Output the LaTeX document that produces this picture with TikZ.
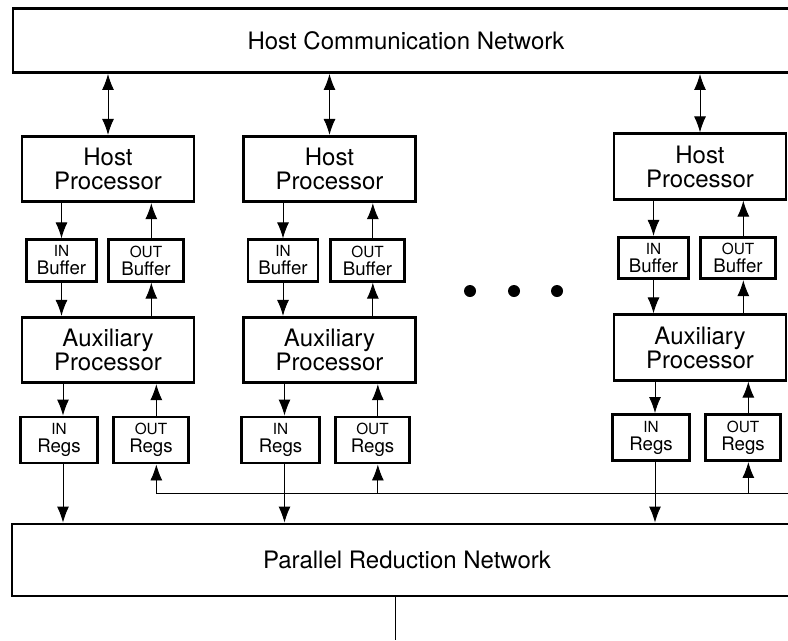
\documentclass[tikz,border=0pt]{standalone}
\usepackage{fontspec}
\setmainfont{TeX Gyre Heros}
\usetikzlibrary{arrows.meta}
\newcommand\smalltag[1]{{\fontsize{11.5}{13.5}\selectfont #1}}
\begin{document}
\begin{tikzpicture}[x=0.75pt,y=-0.75pt,>={Latex[length=12pt,width=9pt]},
  box/.style={draw,line width=2.2pt,align=center,inner sep=0pt},
  netbox/.style={box,minimum height=48pt,font=\fontsize{18}{18}\selectfont},
  procbox/.style={box,minimum width=129pt,minimum height=49pt,font=\fontsize{18}{18}\selectfont},
  bufbox/.style={box,minimum height=31pt,font=\fontsize{14}{13.5}\selectfont},
  regbox/.style={box,minimum height=34.5pt,font=\fontsize{14}{13.5}\selectfont},
  link/.style={line width=0.7pt}]
\useasboundingbox (0,0) rectangle (788,640);
\clip (0,0) rectangle (788,640);
% the two networks
\node[netbox,minimum width=589.5pt] (hcn) at (406,40.5) {Host Communication Network};
\node[netbox,minimum width=592.5pt,minimum height=54pt] (prn) at (407,560) {Parallel Reduction Network};
\coordinate (bus) at (0,493);
\coordinate (busend) at (800,493);
\coordinate (out) at (395,640);
% one column per processor pair
\foreach \i/\x/\dy in {1/108/0,2/329.5/0,3/700/-2.5}{
  \node[procbox] (hp\i) at (\x,169+\dy) {Host\\Processor};
  \node[bufbox,minimum width=52.5pt] (ib\i) at (\x-46.5,260.5+\dy) {\smalltag{IN}\\Buffer};
  \node[bufbox,minimum width=56pt] (ob\i) at (\x+38,260.5+\dy) {\smalltag{OUT}\\Buffer};
  \node[procbox] (ap\i) at (\x,350+\dy) {Auxiliary\\Processor};
  \node[regbox,minimum width=58pt] (ir\i) at (\x-49,440+\dy) {\smalltag{IN}\\Regs};
  \node[regbox,minimum width=56pt] (or\i) at (\x+43,440+\dy) {\smalltag{OUT}\\Regs};
  \draw[link,<->] (hp\i.north |- hcn.south) -- (hp\i.north);
  \draw[link,->] (hp\i.south -| ib\i.north) -- (ib\i.north);
  \draw[link,->] ([xshift=4pt]ob\i.north) -- ([xshift=4pt]ob\i.north |- hp\i.south);
  \draw[link,->] (ib\i.south) -- (ib\i.south |- ap\i.north);
  \draw[link,->] ([xshift=4pt]ap\i.north -| ob\i.north) -- ([xshift=4pt]ob\i.south);
  \draw[link,->] ([xshift=3pt]ap\i.south -| ir\i.north) -- ([xshift=3pt]ir\i.north);
  \draw[link,->] ([xshift=4pt]or\i.north) -- ([xshift=4pt]or\i.north |- ap\i.south);
  \draw[link,->] ([xshift=3pt]ir\i.south) -- ([xshift=3pt]ir\i.south |- prn.north);
  \draw[link,->] ([xshift=4pt]or\i.south |- bus) -- ([xshift=4pt]or\i.south);
}
\draw[link] ([xshift=4pt]or1.south |- bus) -- (busend);
\draw[link] (out |- prn.south) -- (out);
% more columns in between
\foreach \d in {470,514,557}
  \fill (\d,291) circle (4.5pt);
\end{tikzpicture}
\end{document}
